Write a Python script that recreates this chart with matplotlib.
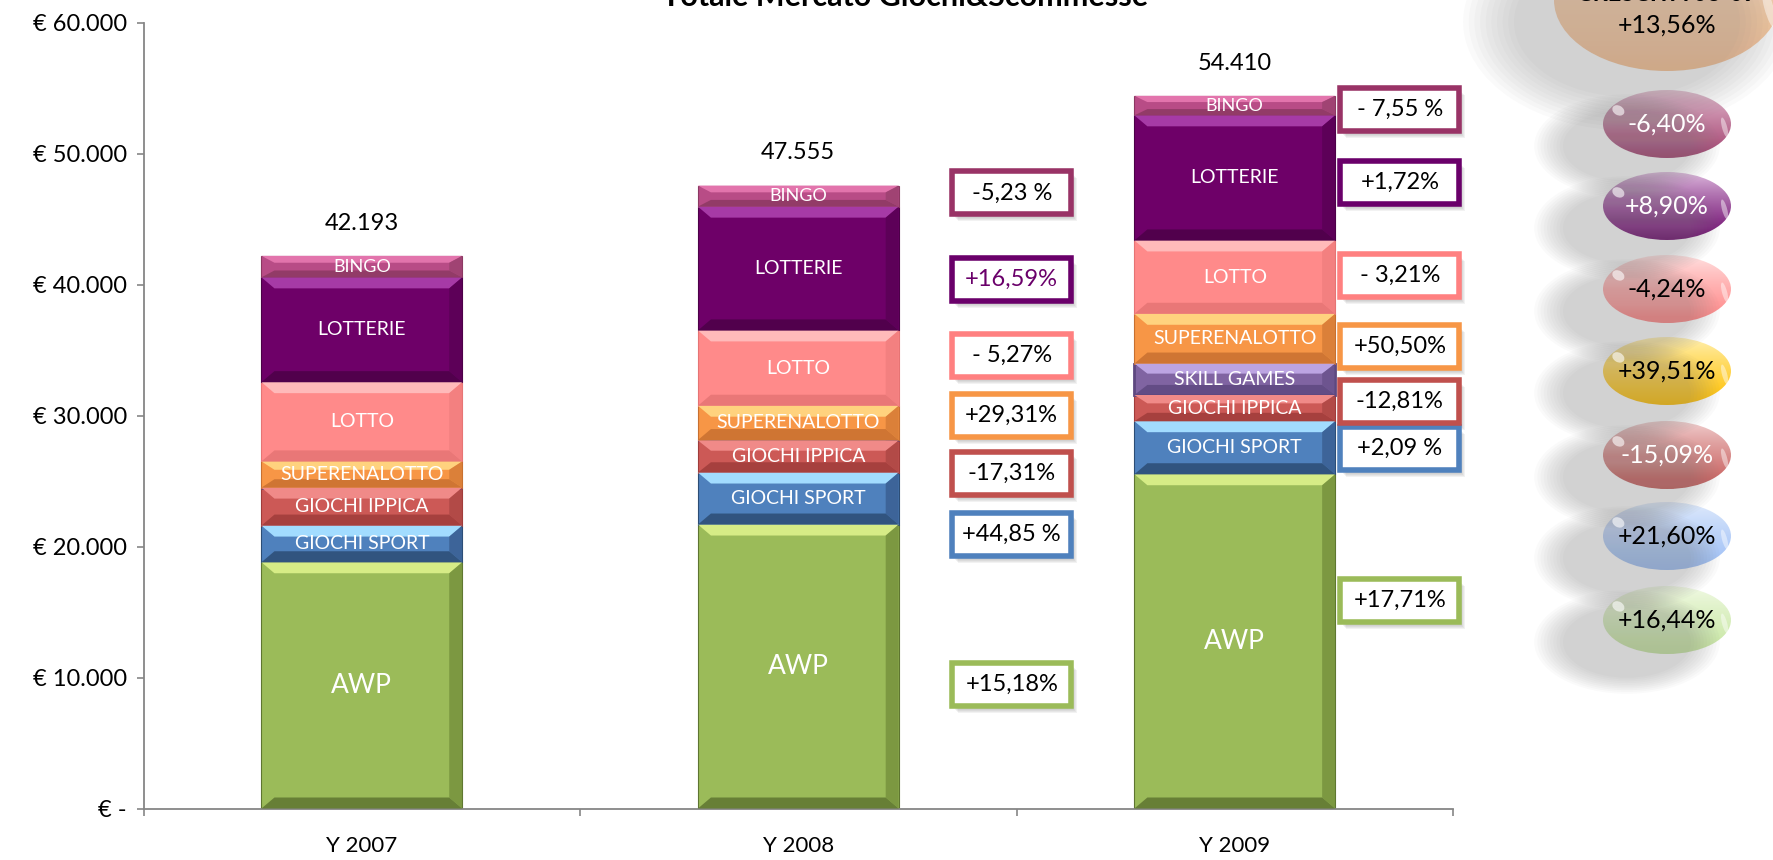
import numpy as np
import matplotlib
matplotlib.use("Agg")
import matplotlib.pyplot as plt
from matplotlib.patches import Rectangle, Polygon, Ellipse
from matplotlib.ticker import FuncFormatter
from matplotlib.colors import to_rgb

plt.rcParams["font.family"] = ["Lato", "DejaVu Sans"]

# data (milioni di euro), stack from bottom to top
years = ["Y 2007", "Y 2008", "Y 2009"]
segments = ["AWP", "GIOCHI SPORT", "GIOCHI IPPICA", "SKILL GAMES",
            "SUPERENALOTTO", "LOTTO", "LOTTERIE", "BINGO"]
awp = [18800, 21680, 25520]
sport = [2800, 3970, 4050]
ippica = [2900, 2450, 2000]
skill = [0, 30, 2400]
superenalotto = [2000, 2620, 3800]
lotto = [6050, 5750, 5600]
lotterie = [8000, 9450, 9550]
bingo = [1643, 1605, 1490]
totals = [42193, 47555, 54410]

# variazioni percentuali accanto alle barre 2008 e 2009
pct_2008 = ["+15,18%", "+44,85 %", "-17,31%", "+29,31%", "- 5,27%", "+16,59%", "-5,23 %"]
pct_2009 = ["+17,71%", "+2,09 %", "-12,81%", "+50,50%", "- 3,21%", "+1,72%", "- 7,55 %"]
pct_keys = ["AWP", "GIOCHI SPORT", "GIOCHI IPPICA", "SUPERENALOTTO", "LOTTO", "LOTTERIE", "BINGO"]
# where the boxes sit (value axis)
box_y_2008 = [9500, 20900, 25600, 30000, 34600, 40400, 47000]
box_y_2009 = [15900, 27500, 31100, 35300, 40700, 47800, 53400]

# crescita pills on the right
pill_labels = ["-6,40%", "+8,90%", "-4,24%", "+39,51%", "-15,09%", "+21,60%", "+16,44%"]
pill_base = ["#A3426F", "#6E0A6E", "#FF8484", "#FFC000", "#C65A58", "#9CBEF6", "#C6E6A0"]
pill_top = ["#E8C4D6", "#E0BEE0", "#FFE4E4", "#FFF2B8", "#F2D2D2", "#E2ECFC", "#F2FAE6"]
pill_text = ["white", "white", "black", "black", "white", "black", "black"]
total_pill = "+13,56%"

values = {"AWP": awp, "GIOCHI SPORT": sport, "GIOCHI IPPICA": ippica,
          "SKILL GAMES": skill, "SUPERENALOTTO": superenalotto, "LOTTO": lotto,
          "LOTTERIE": lotterie, "BINGO": bingo}

# base, top light, bottom dark, right dark
seg_colors = {
    "AWP": ("#9BBB59", "#D6EC86", "#5E7530", "#6F8A38"),
    "GIOCHI SPORT": ("#4F81BD", "#A2DCFF", "#2C4D75", "#36598A"),
    "GIOCHI IPPICA": ("#CC5956", "#F08A88", "#A03C3A", "#A84442"),
    "SKILL GAMES": ("#8064A2", "#BCA4E2", "#5E4880", "#664E88"),
    "SUPERENALOTTO": ("#F79646", "#FFD27E", "#C87030", "#D07834"),
    "LOTTO": ("#FF8A8A", "#FFBABA", "#E67474", "#EE7C7C"),
    "LOTTERIE": ("#6E0068", "#A63AA6", "#4C0048", "#560052"),
    "BINGO": ("#B84C86", "#E274AC", "#8C3862", "#96406C"),
}
box_colors = {"AWP": "#9BBB59", "GIOCHI SPORT": "#4F81BD", "GIOCHI IPPICA": "#C0504D",
              "SUPERENALOTTO": "#F79646", "LOTTO": "#FF8080", "LOTTERIE": "#6A006A",
              "BINGO": "#993366"}
label_size = {"AWP": 19, "BINGO": 13}

W, H = 1773, 860
fig = plt.figure(figsize=(W / 100, H / 100), dpi=100)
ax_l, ax_r, ax_t, ax_b = 143.6, 1453, 22.6, 808.5
ax = fig.add_axes([ax_l / W, (H - ax_b) / H, (ax_r - ax_l) / W, (ax_b - ax_t) / H])
ax.set_facecolor("none")
ax.set_xlim(-0.5, 2.5)
ax.set_ylim(0, 60000)

px_x = 3 / (ax_r - ax_l)        # data units per pixel
px_y = 60000 / (ax_b - ax_t)

x = np.arange(len(years))
bar_w = 0.46
bottom = np.zeros(len(years))
for seg in segments:
    vals = np.array(values[seg], dtype=float)
    base, light, dark, rdark = seg_colors[seg]
    lw = 2.0 if seg == "SKILL GAMES" else 0.8
    bars = ax.bar(x, vals, bar_w, bottom=bottom, color=base,
                  edgecolor=dark, linewidth=lw, zorder=2)
    for rect, v in zip(bars, vals):
        if v <= 0:
            continue
        x0, y0 = rect.get_x(), rect.get_y()
        x1, y1 = x0 + rect.get_width(), y0 + rect.get_height()
        dx = 13 * px_x
        dy = min(11 * px_y, 0.32 * (y1 - y0))
        ax.add_patch(Polygon([(x0, y1), (x1, y1), (x1 - dx, y1 - dy), (x0 + dx, y1 - dy)],
                             closed=True, facecolor=light, edgecolor="none", zorder=3))
        ax.add_patch(Polygon([(x0, y0), (x1, y0), (x1 - dx, y0 + dy), (x0 + dx, y0 + dy)],
                             closed=True, facecolor=dark, edgecolor="none", alpha=0.85, zorder=3))
        ax.add_patch(Polygon([(x1, y0), (x1, y1), (x1 - dx, y1 - dy), (x1 - dx, y0 + dy)],
                             closed=True, facecolor=rdark, edgecolor="none", alpha=0.7, zorder=3))
        if v > 500:
            ax.text(rect.get_x() + rect.get_width() / 2, y0 + v / 2, seg, color="white",
                    ha="center", va="center", fontsize=label_size.get(seg, 14), zorder=5)
    bottom += vals

for xi, tot in zip(x, totals):
    ax.text(xi, tot + 2500, f"{tot:,}".replace(",", "."), ha="center", va="center",
            fontsize=17, color="black")

# percentage boxes
box_w = 119 * px_x
box_h = 43 * px_y
for xc, labels, ys in [(1.489, pct_2008, box_y_2008), (2.378, pct_2009, box_y_2009)]:
    for key, lab, yc in zip(pct_keys, labels, ys):
        for k in range(4):
            ax.add_patch(Rectangle((xc - box_w / 2 + (3 + k) * px_x, yc - box_h / 2 - (4 + k) * px_y),
                                   box_w, box_h, facecolor="#606060", alpha=0.08,
                                   edgecolor="none", clip_on=False, zorder=3))
        ax.add_patch(Rectangle((xc - box_w / 2, yc - box_h / 2), box_w, box_h,
                               facecolor="white", edgecolor=box_colors[key], linewidth=4,
                               clip_on=False, zorder=4))
        tc = "#6A006A" if lab == "+16,59%" else "black"
        ax.text(xc, yc, lab, ha="center", va="center", fontsize=17, color=tc, zorder=5)

for s in ["top", "right"]:
    ax.spines[s].set_visible(False)
for s in ["left", "bottom"]:
    ax.spines[s].set_color("#868686")
    ax.spines[s].set_linewidth(1.3)
ax.set_yticks(np.arange(0, 60001, 10000))
ax.yaxis.set_major_formatter(FuncFormatter(
    lambda v, p: "€ -" if v == 0 else "€ " + f"{v:,.0f}".replace(",", ".")))
ax.tick_params(axis="y", length=5, width=1.2, color="#868686", pad=7, labelsize=17)
ax.set_xticks(x)
ax.set_xticklabels(years)
ax.set_xticks([-0.5, 0.5, 1.5, 2.5], minor=True)
ax.tick_params(axis="x", which="major", length=0, pad=20, labelsize=16)
ax.tick_params(axis="x", which="minor", length=5, width=1.2, color="#868686")

fig.text(905 / W, 1 - 6 / H, "Totale Mercato Giochi&Scommesse", ha="center",
         va="baseline", fontsize=22, fontweight="bold")

# overlay in pixel coordinates for the pills
ov = fig.add_axes([0, 0, 1, 1])
ov.set_xlim(0, W)
ov.set_ylim(H, 0)
ov.axis("off")
ov.patch.set_visible(False)


def pill(cx, cy, w, h, top, base, text, tcolor, fs):
    for k in range(10):
        f = 1 + 0.05 * (9 - k)
        ov.add_patch(Ellipse((cx - 40, cy + 22), w * f, h * f * 1.05, facecolor="#808080",
                             alpha=0.04, edgecolor="none"))
    el = Ellipse((cx, cy), w, h, facecolor="none", edgecolor="none")
    ov.add_patch(el)
    t, b = np.array(to_rgb(top)), np.array(to_rgb(base))
    s = np.linspace(0, 1, 64)[:, None] ** 0.8
    grad = (t * (1 - s) + b * s)[:, None, :]
    im = ov.imshow(grad, extent=(cx - w / 2, cx + w / 2, cy + h / 2, cy - h / 2),
                   origin="upper", aspect="auto", interpolation="bilinear")
    im.set_clip_path(el)
    ov.add_patch(Ellipse((cx - 0.38 * w, cy - 0.2 * h), 0.1 * w, 0.14 * h, angle=30,
                         facecolor="white", alpha=0.6, edgecolor="none"))
    ov.add_patch(Ellipse((cx + 0.45 * w, cy + 0.05 * h), 0.04 * w, 0.3 * h, angle=-15,
                         facecolor="white", alpha=0.45, edgecolor="none"))
    ov.text(cx, cy, text, ha="center", va="center", color=tcolor, fontsize=fs)


pill_cx = 1667
pill(pill_cx, 0, 226, 142, "#FEE6D2", "#FAC292", "", "black", 17)
ov.text(pill_cx, 1, "CRESCITA 08-09", ha="center", va="baseline", fontsize=17, fontweight="bold")
ov.text(pill_cx, 25, total_pill, ha="center", va="center", fontsize=18)
pill_y = [124, 206, 289, 371, 455, 536, 620]
for lab, yc, b, t, tc in zip(pill_labels, pill_y, pill_base, pill_top, pill_text):
    pill(pill_cx, yc, 128, 68, t, b, lab, tc, 18)

fig.savefig("out.png", dpi=100)
